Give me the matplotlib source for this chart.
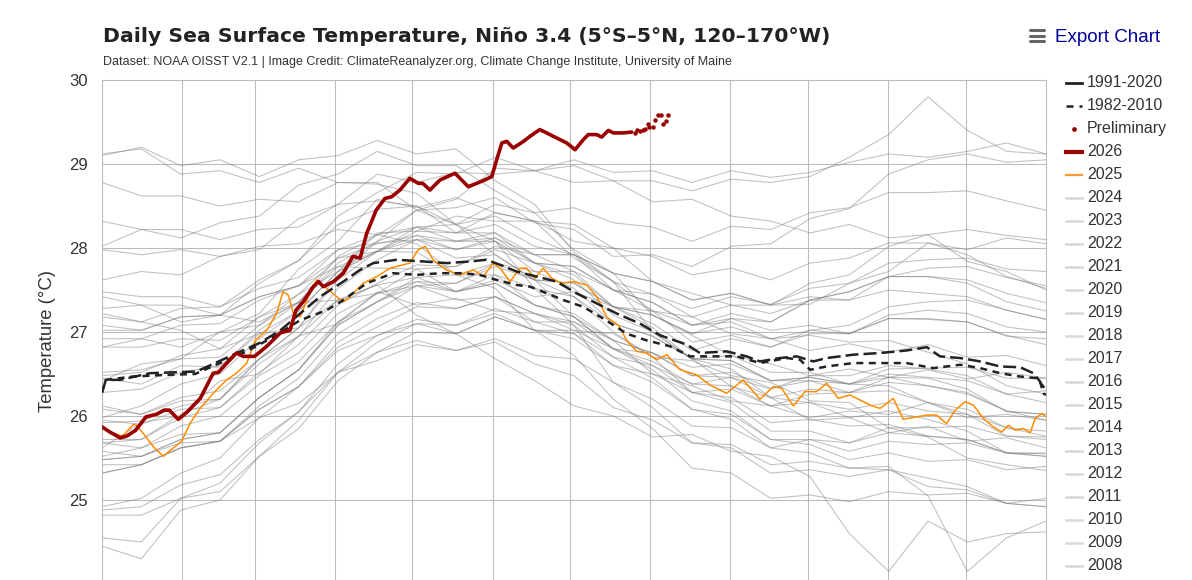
import numpy as np
import matplotlib.pyplot as plt
from matplotlib.lines import Line2D

plt.rcParams['font.family'] = ['Liberation Sans', 'DejaVu Sans']

# month boundaries (day of year) used for the vertical grid
month_edges = [0, 31, 59, 90, 120, 151, 181, 212, 243, 273, 304, 334, 365]

# 2026 (thick red)
days_2026 = [0, 3, 7, 9.5, 13, 17, 21, 24, 26, 29.5, 33, 38, 43, 45, 49.5, 52, 54.6, 59, 63.7, 69,
             72.7, 75, 77.8, 81.7, 83.7, 85.6, 89.5, 93.3, 97, 99.8, 102.3, 106, 109.4, 112, 115.2,
             119, 122.3, 124, 126.8, 130.7, 136.5, 141.6, 144.9, 148, 150.7, 152.6, 154.6, 156.5,
             159, 163, 165.5, 169.3, 171.9, 175.8, 179.7, 182.9, 186.1, 188, 191.3, 193.2, 195.8,
             197.7, 201.6, 204.8]
sst_2026 = [25.87, 25.81, 25.74, 25.76, 25.83, 25.99, 26.02, 26.07, 26.07, 25.96, 26.05, 26.21, 26.51,
            26.52, 26.67, 26.75, 26.71, 26.71, 26.83, 26.99, 27.02, 27.26, 27.36, 27.54, 27.60, 27.54,
            27.60, 27.70, 27.90, 27.88, 28.17, 28.45, 28.59, 28.61, 28.69, 28.83, 28.77, 28.77, 28.69,
            28.81, 28.89, 28.73, 28.77, 28.81, 28.85, 29.05, 29.25, 29.27, 29.19, 29.27, 29.33, 29.41,
            29.37, 29.31, 29.25, 29.17, 29.29, 29.35, 29.35, 29.32, 29.40, 29.37, 29.37, 29.38]

# preliminary 2026 values (dots)
days_prelim = [206.1, 207.0, 208.0, 209.1, 210.0, 211.0, 211.6, 212.9, 213.8, 214.9, 216.1, 216.8, 217.9, 218.8]
sst_prelim = [29.37, 29.40, 29.39, 29.41, 29.42, 29.48, 29.44, 29.44, 29.52, 29.58, 29.58, 29.48, 29.51, 29.58]

# 2025 (orange)
days_2025 = [0, 4, 8, 12.1, 13.4, 16, 20, 23.7, 27.6, 30.8, 34, 37.9, 43, 48.2, 52, 56, 59.2, 63.7,
             67.5, 70, 72, 74, 76.6, 79.8, 83, 86.9, 90.7, 93.3, 95.9, 101, 106.2, 111.4, 119, 122.3,
             125, 128, 133, 138.4, 143.6, 147.4, 151.3, 153.9, 157.8, 161.6, 164.2, 167.4, 170.6,
             173.9, 177.7, 182.2, 187.4, 191.3, 195.1, 199.7, 202.9, 206.7, 210.6, 214.5, 218.4,
             223.5, 229.9, 235, 241.5, 247.9, 254.4, 259.6, 262.8, 267.3, 271.8, 276.3, 280.2, 284.7,
             289.2, 297, 300.8, 306, 309.8, 315, 318.9, 322.7, 326.6, 329.9, 333.7, 336.9, 340.8,
             344.6, 347.9, 350.5, 353.1, 356.3, 358.9, 360.8, 363.4, 365]
sst_2025 = [25.87, 25.80, 25.76, 25.90, 25.89, 25.79, 25.63, 25.52, 25.62, 25.70, 25.91, 26.09, 26.27,
            26.43, 26.51, 26.63, 26.90, 27.02, 27.22, 27.48, 27.44, 27.22, 27.18, 27.42, 27.62, 27.52,
            27.42, 27.36, 27.42, 27.58, 27.66, 27.76, 27.82, 27.98, 28.02, 27.86, 27.74, 27.68, 27.74,
            27.66, 27.82, 27.76, 27.60, 27.76, 27.76, 27.64, 27.76, 27.64, 27.58, 27.60, 27.56, 27.42,
            27.18, 27.08, 26.90, 26.77, 26.75, 26.67, 26.73, 26.55, 26.49, 26.37, 26.27, 26.43, 26.20,
            26.35, 26.33, 26.12, 26.29, 26.29, 26.39, 26.21, 26.25, 26.13, 26.09, 26.21, 25.96, 25.99,
            26.01, 26.01, 25.91, 26.07, 26.17, 26.13, 25.97, 25.87, 25.81, 25.89, 25.83, 25.85, 25.80,
            25.97, 26.03, 25.99]

# 1991-2020 mean (long dashes)
days_9120 = [0, 1.5, 7, 18.6, 36.6, 50.8, 61, 69, 76.6, 84.3, 93.3, 99.8, 104.9, 113.9, 124.2, 133.3,
             142.3, 148.7, 153.9, 160.3, 168, 175.8, 183.5, 191.3, 199, 208, 215.8, 226.1, 231.2,
             241.5, 249.2, 254.4, 262.2, 268.6, 275, 280.2, 290.5, 300.8, 311.1, 318.9, 324, 331.8,
             339.5, 347.2, 355, 360.1, 362.7, 364, 365]
sst_9120 = [26.28, 26.43, 26.43, 26.51, 26.53, 26.73, 26.87, 27.02, 27.22, 27.42, 27.60, 27.74, 27.82,
            27.86, 27.84, 27.82, 27.84, 27.86, 27.80, 27.72, 27.66, 27.60, 27.46, 27.34, 27.22, 27.10,
            26.96, 26.85, 26.75, 26.77, 26.71, 26.65, 26.69, 26.71, 26.65, 26.69, 26.73, 26.75, 26.78,
            26.82, 26.71, 26.69, 26.65, 26.59, 26.58, 26.51, 26.41, 26.27, 26.25]

# 1982-2010 mean (short dashes)
days_8210 = [0, 1.5, 12, 25, 36, 45.6, 56, 66.2, 76.6, 86.9, 93.3, 102.3, 112.6, 121.7, 130.7, 139.7,
             146, 152.6, 160.3, 165.5, 172, 178.4, 186.1, 193.8, 202.9, 210.6, 219.6, 227.4, 235.1,
             245.4, 254.4, 264.8, 269.9, 273.8, 280.2, 290.5, 300.8, 311.1, 321.4, 331.8, 339.5,
             347.2, 355, 361.4, 364, 365]
sst_8210 = [26.28, 26.43, 26.47, 26.49, 26.50, 26.63, 26.77, 26.94, 27.14, 27.26, 27.38, 27.58, 27.70,
            27.68, 27.70, 27.70, 27.68, 27.62, 27.56, 27.54, 27.46, 27.38, 27.30, 27.16, 26.98, 26.90,
            26.83, 26.71, 26.71, 26.71, 26.63, 26.69, 26.67, 26.55, 26.59, 26.63, 26.63, 26.63, 26.57,
            26.61, 26.57, 26.51, 26.47, 26.45, 26.35, 26.30]

# earlier years (gray), one value roughly every 15 days from Jan 1 to Dec 31
y1982 = [26.45, 26.38, 26.60, 26.58, 27.02, 27.35, 27.90, 28.15, 28.45, 28.48, 28.60, 28.30, 28.22, 27.90, 27.92, 27.78, 28.02, 28.05, 28.35, 28.47, 28.88, 29.05, 29.12, 29.02, 29.05]
y1983 = [29.10, 29.20, 28.98, 29.05, 28.85, 29.05, 29.10, 29.28, 29.12, 29.18, 28.80, 28.52, 27.95, 27.60, 27.00, 26.68, 26.35, 26.22, 25.95, 25.98, 25.80, 25.88, 25.70, 25.74, 25.62]
y1984 = [25.62, 25.92, 26.00, 26.42, 26.50, 26.95, 27.10, 27.48, 27.32, 27.40, 27.25, 27.22, 27.02, 26.98, 26.70, 26.66, 26.48, 26.40, 26.18, 26.16, 25.86, 25.75, 25.50, 25.42, 25.35]
y1985 = [25.32, 25.42, 25.62, 25.70, 26.08, 26.35, 26.78, 26.96, 27.10, 26.98, 27.18, 27.02, 26.98, 26.70, 26.60, 26.38, 26.36, 26.12, 26.26, 26.28, 26.46, 26.45, 26.32, 26.05, 26.02]
y1986 = [25.95, 25.90, 26.08, 26.10, 26.52, 26.85, 27.32, 27.58, 27.80, 27.78, 27.98, 27.82, 27.78, 27.50, 27.45, 27.28, 27.42, 27.33, 27.52, 27.58, 27.82, 27.86, 27.88, 27.75, 27.72]
y1987 = [27.62, 27.72, 27.68, 27.90, 27.98, 28.35, 28.52, 28.88, 28.78, 28.90, 28.88, 28.92, 28.78, 28.80, 28.55, 28.58, 28.38, 28.32, 28.18, 28.28, 28.12, 28.16, 27.84, 27.72, 27.50]
y1988 = [27.28, 27.32, 27.12, 27.20, 27.12, 27.35, 27.38, 27.56, 27.20, 26.98, 26.68, 26.42, 26.12, 26.00, 25.75, 25.78, 25.58, 25.52, 25.28, 24.60, 24.15, 24.75, 24.50, 24.60, 24.62]
y1989 = [24.45, 24.30, 24.88, 25.00, 25.52, 25.95, 26.52, 26.88, 27.10, 27.08, 27.28, 27.12, 27.12, 26.90, 26.75, 26.48, 26.52, 26.33, 26.42, 26.38, 26.56, 26.57, 26.58, 26.45, 26.45]
y1990 = [26.48, 26.52, 26.72, 26.80, 27.18, 27.45, 27.88, 28.05, 28.15, 27.98, 28.08, 27.82, 27.78, 27.50, 27.35, 27.08, 27.16, 27.02, 27.08, 26.98, 27.16, 27.15, 27.12, 26.95, 26.92]
y1991 = [26.82, 26.92, 26.82, 27.00, 27.08, 27.45, 27.72, 28.18, 28.20, 28.38, 28.32, 28.32, 28.08, 28.00, 27.60, 27.46, 27.32, 27.32, 27.33, 27.58, 27.72, 28.06, 27.98, 28.12, 28.05]
y1992 = [28.02, 28.22, 28.12, 28.30, 28.38, 28.75, 28.88, 29.15, 28.98, 28.98, 28.68, 28.42, 27.98, 27.70, 27.20, 26.96, 26.72, 26.62, 26.48, 26.56, 26.46, 26.55, 26.44, 26.52, 26.45]
y1993 = [26.42, 26.62, 26.68, 27.00, 27.22, 27.75, 28.08, 28.58, 28.48, 28.60, 28.42, 28.32, 27.88, 27.60, 27.25, 27.18, 26.98, 26.92, 26.78, 26.86, 26.76, 26.85, 26.70, 26.72, 26.60]
y1994 = [26.52, 26.55, 26.68, 26.70, 27.08, 27.36, 27.82, 28.08, 28.25, 28.18, 28.28, 28.02, 27.92, 27.60, 27.45, 27.18, 27.32, 27.22, 27.38, 27.38, 27.66, 27.76, 27.78, 27.65, 27.55]
y1995 = [27.48, 27.42, 27.42, 27.30, 27.52, 27.65, 27.98, 28.06, 28.10, 27.88, 27.92, 27.62, 27.42, 27.00, 26.70, 26.28, 26.16, 25.82, 25.82, 25.68, 25.80, 25.76, 25.72, 25.56, 25.55]
y1996 = [25.48, 25.52, 25.72, 25.80, 26.22, 26.55, 27.08, 27.36, 27.55, 27.48, 27.58, 27.32, 27.22, 26.90, 26.75, 26.48, 26.46, 26.22, 26.32, 26.28, 26.40, 26.36, 26.26, 26.06, 26.02]
y1997 = [25.92, 25.94, 26.12, 26.20, 26.68, 27.05, 27.68, 28.08, 28.45, 28.58, 28.95, 28.92, 29.05, 28.90, 28.92, 28.78, 28.92, 28.84, 28.90, 29.02, 29.12, 29.08, 29.15, 29.25, 29.12]
y1998 = [28.78, 28.62, 28.62, 28.50, 28.58, 28.55, 28.78, 28.76, 28.65, 28.28, 28.08, 27.52, 27.08, 26.40, 26.10, 25.68, 25.62, 25.32, 25.36, 25.28, 25.36, 25.26, 25.16, 24.96, 24.92]
y1999 = [24.88, 24.92, 25.18, 25.30, 25.72, 26.05, 26.52, 26.76, 26.90, 26.78, 26.88, 26.62, 26.48, 26.10, 25.95, 25.68, 25.66, 25.42, 25.46, 25.38, 25.40, 25.05, 24.15, 24.55, 24.75]
y2000 = [24.55, 24.50, 25.02, 25.20, 25.68, 26.05, 26.62, 26.96, 27.15, 27.08, 27.22, 27.02, 26.92, 26.60, 26.50, 26.28, 26.32, 26.12, 26.16, 26.08, 26.16, 26.06, 26.02, 25.86, 25.82]
y2001 = [25.72, 25.72, 25.98, 26.10, 26.48, 26.75, 27.22, 27.46, 27.60, 27.48, 27.68, 27.52, 27.42, 27.10, 26.95, 26.68, 26.66, 26.42, 26.46, 26.38, 26.50, 26.46, 26.42, 26.26, 26.30]
y2002 = [26.28, 26.32, 26.52, 26.60, 26.98, 27.25, 27.72, 27.96, 28.20, 28.18, 28.42, 28.32, 28.28, 28.00, 27.90, 27.68, 27.76, 27.62, 27.82, 27.88, 28.06, 28.06, 27.92, 27.66, 27.52]
y2003 = [27.42, 27.32, 27.32, 27.20, 27.42, 27.55, 27.78, 27.76, 27.75, 27.48, 27.62, 27.42, 27.48, 27.30, 27.20, 26.98, 27.06, 26.92, 27.02, 26.98, 27.16, 27.16, 27.12, 26.96, 26.85]
y2004 = [26.82, 26.82, 26.92, 26.90, 27.18, 27.35, 27.78, 27.96, 28.10, 27.98, 28.12, 27.92, 27.92, 27.70, 27.60, 27.38, 27.46, 27.32, 27.42, 27.38, 27.50, 27.46, 27.42, 27.26, 27.15]
y2005 = [27.08, 27.02, 27.18, 27.20, 27.42, 27.55, 27.98, 28.16, 28.25, 28.08, 28.08, 27.72, 27.52, 27.10, 26.95, 26.68, 26.72, 26.52, 26.52, 26.38, 26.36, 26.16, 26.02, 25.76, 25.72]
y2006 = [25.58, 25.52, 25.72, 25.80, 26.22, 26.55, 27.08, 27.36, 27.65, 27.68, 27.82, 27.62, 27.58, 27.30, 27.25, 27.08, 27.22, 27.12, 27.38, 27.48, 27.66, 27.66, 27.62, 27.46, 27.35]
y2007 = [27.22, 27.12, 27.02, 26.80, 26.98, 27.05, 27.38, 27.46, 27.55, 27.38, 27.42, 27.12, 26.98, 26.60, 26.40, 26.08, 25.96, 25.62, 25.56, 25.38, 25.36, 25.16, 25.12, 24.96, 24.92]
y2008 = [24.82, 24.82, 25.02, 25.10, 25.52, 25.85, 26.42, 26.76, 27.00, 26.98, 27.18, 27.02, 27.02, 26.80, 26.75, 26.58, 26.62, 26.42, 26.42, 26.28, 26.30, 26.16, 26.08, 25.86, 25.76]
y2009 = [25.68, 25.62, 25.78, 25.80, 26.22, 26.55, 27.12, 27.46, 27.75, 27.78, 28.02, 27.92, 27.92, 27.70, 27.60, 27.38, 27.46, 27.32, 27.58, 27.68, 28.02, 28.16, 28.22, 28.15, 28.10]
y2010 = [27.98, 27.92, 27.98, 27.90, 28.02, 28.05, 28.22, 28.16, 28.05, 27.68, 27.52, 27.02, 26.72, 26.20, 25.85, 25.38, 25.32, 25.02, 25.06, 24.98, 25.10, 25.06, 25.08, 24.96, 25.02]
y2011 = [24.92, 25.02, 25.32, 25.50, 25.98, 26.35, 26.88, 27.16, 27.35, 27.28, 27.42, 27.22, 27.08, 26.70, 26.45, 26.08, 26.02, 25.72, 25.72, 25.58, 25.70, 25.66, 25.68, 25.56, 25.56]
y2012 = [25.52, 25.62, 25.88, 26.00, 26.38, 26.65, 27.12, 27.36, 27.60, 27.58, 27.82, 27.72, 27.72, 27.50, 27.35, 27.08, 27.12, 26.92, 26.96, 26.88, 26.90, 26.76, 26.62, 26.36, 26.26]
y2013 = [26.12, 26.02, 26.22, 26.30, 26.68, 26.95, 27.38, 27.56, 27.65, 27.48, 27.58, 27.32, 27.18, 26.80, 26.65, 26.38, 26.46, 26.32, 26.48, 26.48, 26.60, 26.56, 26.48, 26.26, 26.16]
y2014 = [26.08, 26.02, 26.18, 26.20, 26.62, 26.95, 27.52, 27.86, 28.10, 28.08, 28.12, 27.82, 27.68, 27.30, 27.10, 26.78, 26.92, 26.82, 27.02, 27.08, 27.30, 27.36, 27.38, 27.26, 27.15]
y2015 = [27.02, 27.02, 27.18, 27.20, 27.58, 27.85, 28.38, 28.66, 28.90, 28.88, 29.08, 28.92, 28.98, 28.80, 28.80, 28.68, 28.82, 28.78, 28.85, 29.08, 29.35, 29.80, 29.40, 29.15, 29.12]
y2016 = [29.12, 29.18, 28.88, 28.92, 28.78, 28.95, 28.78, 28.78, 28.45, 28.28, 27.92, 27.62, 27.18, 26.90, 26.50, 26.36, 26.18, 26.12, 25.98, 26.06, 26.02, 26.16, 25.98, 26.02, 25.95]
y2017 = [25.98, 26.12, 26.38, 26.50, 26.92, 27.25, 27.72, 27.96, 28.15, 28.08, 28.18, 27.92, 27.72, 27.30, 27.05, 26.68, 26.56, 26.22, 26.16, 25.98, 26.06, 25.96, 25.82, 25.56, 25.52]
y2018 = [25.48, 25.52, 25.68, 25.70, 26.12, 26.45, 26.98, 27.26, 27.55, 27.58, 27.78, 27.62, 27.58, 27.30, 27.20, 26.98, 27.16, 27.12, 27.38, 27.48, 27.66, 27.66, 27.58, 27.36, 27.25]
y2019 = [27.18, 27.12, 27.28, 27.30, 27.62, 27.85, 28.28, 28.46, 28.50, 28.28, 28.38, 28.12, 27.92, 27.50, 27.25, 26.88, 26.96, 26.82, 26.98, 26.98, 27.20, 27.26, 27.22, 27.06, 27.00]
y2020 = [26.92, 26.92, 27.08, 27.10, 27.38, 27.55, 27.88, 27.96, 27.95, 27.68, 27.68, 27.32, 27.18, 26.80, 26.55, 26.18, 26.06, 25.72, 25.66, 25.48, 25.56, 25.46, 25.48, 25.36, 25.40]
y2021 = [25.32, 25.42, 25.62, 25.70, 26.08, 26.35, 26.82, 27.06, 27.30, 27.28, 27.42, 27.22, 27.12, 26.80, 26.60, 26.28, 26.22, 25.92, 25.96, 25.88, 25.90, 25.76, 25.72, 25.56, 25.52]
y2022 = [25.42, 25.42, 25.62, 25.70, 25.98, 26.15, 26.52, 26.66, 26.85, 26.78, 26.92, 26.72, 26.68, 26.40, 26.20, 25.88, 25.86, 25.62, 25.72, 25.68, 25.86, 25.86, 25.88, 25.76, 25.75]
y2023 = [25.68, 25.72, 26.02, 26.20, 26.68, 27.05, 27.62, 27.96, 28.25, 28.28, 28.52, 28.42, 28.48, 28.30, 28.25, 28.08, 28.26, 28.22, 28.42, 28.48, 28.66, 28.66, 28.68, 28.56, 28.45]
y2024 = [28.32, 28.22, 28.22, 28.10, 28.22, 28.25, 28.52, 28.56, 28.50, 28.18, 28.18, 27.82, 27.62, 27.20, 27.00, 26.68, 26.66, 26.42, 26.46, 26.38, 26.46, 26.36, 26.28, 26.06, 25.95]

gray_years = list(range(1982, 2025))
gray_series = [y1982, y1983, y1984, y1985, y1986, y1987, y1988, y1989, y1990, y1991, y1992,
               y1993, y1994, y1995, y1996, y1997, y1998, y1999, y2000, y2001, y2002, y2003,
               y2004, y2005, y2006, y2007, y2008, y2009, y2010, y2011, y2012, y2013, y2014,
               y2015, y2016, y2017, y2018, y2019, y2020, y2021, y2022, y2023, y2024]
gray_days = np.linspace(0, 365, len(y1982))

W, H = 1192, 580
RED = '#9a0000'
ORANGE = '#ff8c00'
DARK = '#222222'


def fx(px):
    return px / W


def fy(py):
    return 1 - py / H


fig = plt.figure(figsize=(W / 100, H / 100), dpi=100)
# plot area: x 102..1046 px, 30 degC at y=80 px, 84 px per degree (runs past the bottom edge)
ax = fig.add_axes([fx(102), fy(80 + 6 * 84), fx(944), 6 * 84 / H])

for vals in gray_series:
    ax.plot(gray_days, vals, color='#808080', alpha=0.5, lw=0.75, zorder=1)

ax.plot(days_2025, sst_2025, color=ORANGE, lw=1.1, zorder=3)
ax.plot(days_8210, sst_8210, color=DARK, lw=1.8, dashes=(2.8, 2.2), zorder=4)
ax.plot(days_9120, sst_9120, color=DARK, lw=1.8, dashes=(5.2, 2.0), zorder=4)
ax.plot(days_2026, sst_2026, color=RED, lw=2.6, solid_joinstyle='round',
        solid_capstyle='round', zorder=5)
ax.plot(days_prelim, sst_prelim, ls='none', marker='o', ms=2.2, color=RED, zorder=6)

ax.set_xlim(0, 365)
ax.set_ylim(24, 30)
ax.set_xticks(month_edges)
ax.set_xticklabels([])
ax.set_yticks([25, 26, 27, 28, 29, 30])
ax.tick_params(axis='x', length=0)
ax.tick_params(axis='y', length=0, pad=10.5, labelsize=12, labelcolor='#333333')
ax.grid(True, color='#bbbbbb', lw=0.75)
ax.set_axisbelow(True)
for side in ['left', 'right', 'top']:
    ax.spines[side].set_color('#bbbbbb')
    ax.spines[side].set_linewidth(0.75)
ax.spines['bottom'].set_visible(False)

fig.text(fx(47), fy(341), 'Temperature (°C)', rotation=90, ha='center', va='center',
         fontsize=13.3, color='#333333')

fig.text(fx(103), fy(42), 'Daily Sea Surface Temperature, Niño 3.4 (5°S–5°N, 120–170°W)',
         family='DejaVu Sans', fontweight='bold', fontsize=14.7, color='#222222', va='baseline')
fig.text(fx(103), fy(65), 'Dataset: NOAA OISST V2.1 | Image Credit: ClimateReanalyzer.org, '
         'Climate Change Institute, University of Maine', fontsize=9, color='#333333', va='baseline')
fig.text(fx(1055), fy(42.3), 'Export Chart', fontsize=13.5, color='#00009c', va='baseline')
for yb in [30, 35.5, 41]:
    fig.add_artist(Line2D([fx(1030), fx(1044)], [fy(yb), fy(yb)], color='#666666', lw=2.2,
                          solid_capstyle='round'))

# legend, one row every 23 px; like the original it runs on past the bottom edge
legend_labels = ['1991-2020', '1982-2010', 'Preliminary', '2026', '2025'] + \
    [str(y) for y in reversed(gray_years)]
for i, lab in enumerate(legend_labels):
    yy = fy(82.7 + 23 * i)
    xs = [fx(1066), fx(1082)]
    if lab == '1991-2020':
        fig.add_artist(Line2D(xs, [yy, yy], color=DARK, lw=2.0))
    elif lab == '1982-2010':
        fig.add_artist(Line2D(xs, [yy, yy], color=DARK, lw=1.8, dashes=(2.8, 2.4)))
    elif lab == 'Preliminary':
        fig.add_artist(Line2D([fx(1074)], [yy], ls='none', marker='o', ms=2.4, color=RED))
    elif lab == '2026':
        fig.add_artist(Line2D(xs, [yy, yy], color=RED, lw=3.0))
    elif lab == '2025':
        fig.add_artist(Line2D(xs, [yy, yy], color='#ff9a33', lw=1.6))
    else:
        fig.add_artist(Line2D(xs, [yy, yy], color='#d8d8d8', lw=1.8))
    fig.text(fx(1087), yy, lab, fontsize=11.5, color='#333333', va='center')

fig.savefig('out.png', dpi=100)
